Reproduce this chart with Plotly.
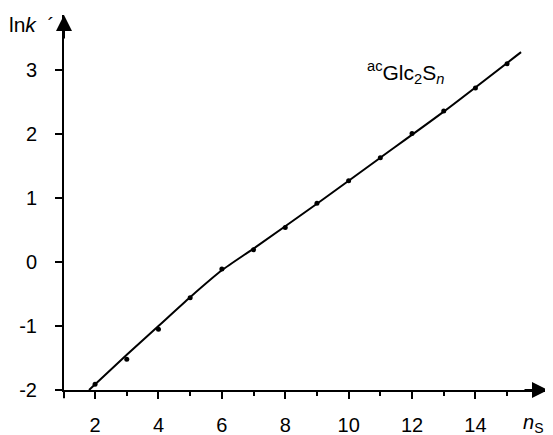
import plotly.graph_objects as go

# data
n_s = [2, 3, 4, 5, 6, 7, 8, 9, 10, 11, 12, 13, 14, 15]
ln_k = [-1.91, -1.52, -1.05, -0.56, -0.11, 0.19, 0.54, 0.92, 1.27, 1.63, 2.01, 2.36, 2.72, 3.10]

fit_x = [1.81, 3.0, 4.0, 5.0, 6.0, 7.0, 9.0, 11.0, 13.0, 15.44]
fit_y = [-2.0, -1.45, -1.0, -0.55, -0.13, 0.21, 0.91, 1.63, 2.35, 3.28]

x_ticks = [2, 4, 6, 8, 10, 12, 14]
x_minor = [3, 5, 7, 9, 11, 13, 15]
y_ticks = [-2, -1, 0, 1, 2, 3]

FONT = "Liberation Sans, Arial, Helvetica, sans-serif"

fig = go.Figure()
fig.add_trace(go.Scatter(x=fit_x, y=fit_y, mode="lines",
                         line=dict(color="black", width=2, shape="spline", smoothing=0.6),
                         hoverinfo="skip", cliponaxis=False))
fig.add_trace(go.Scatter(x=n_s, y=ln_k, mode="markers",
                         marker=dict(color="black", size=5), cliponaxis=False))

fig.update_layout(
    width=553, height=435,
    margin=dict(l=56, r=13, t=7, b=53, autoexpand=False),
    plot_bgcolor="white", paper_bgcolor="white",
    showlegend=False,
    font=dict(family=FONT, size=20, color="black"),
    xaxis=dict(range=[1.02, 16.29], tickvals=x_ticks, ticktext=[str(v) for v in x_ticks],
               automargin=False,
               showgrid=False, zeroline=False, showline=True, linecolor="black", linewidth=2,
               ticks="outside", ticklen=7, tickwidth=2, tickcolor="black",
               ticklabelstandoff=9,
               minor=dict(tickvals=x_minor, ticks="outside", ticklen=4, tickwidth=2, tickcolor="black")),
    yaxis=dict(range=[-2, 3.86], tickvals=y_ticks, ticktext=[str(v) for v in y_ticks],
               automargin=False,
               showgrid=False, zeroline=False, showline=True, linecolor="black", linewidth=2,
               ticks="outside", ticklen=7, tickwidth=2, tickcolor="black",
               ticklabelstandoff=14),
)

# axis extensions beyond the crossing
fig.add_shape(type="line", xref="paper", yref="paper", x0=-0.018, x1=0, y0=0, y1=0,
              line=dict(color="black", width=2))
fig.add_shape(type="line", xref="paper", yref="paper", x0=0, x1=0, y0=-0.022, y1=0,
              line=dict(color="black", width=2))

# arrowheads
fig.add_annotation(xref="paper", yref="paper", x=1.0, y=0, ax=-25, ay=0, text="",
                   showarrow=True, arrowhead=2, arrowsize=1.6, arrowwidth=2, arrowcolor="black")
fig.add_annotation(xref="paper", yref="paper", x=0, y=1.0, ax=0, ay=25, text="",
                   showarrow=True, arrowhead=2, arrowsize=1.6, arrowwidth=2, arrowcolor="black")

# axis labels
fig.add_annotation(xref="paper", yref="paper", x=(57 - 64) / 484, y=(390 - 24) / 375,
                   xanchor="right", yanchor="middle",
                   text="ln<i>k</i>&nbsp;&nbsp;´", showarrow=False, font=dict(size=21))
fig.add_annotation(xref="paper", yref="paper", x=(533 - 64) / 484, y=(390 - 423) / 375,
                   xanchor="center", yanchor="middle",
                   text="<i>n</i><sub>S</sub>", showarrow=False, font=dict(size=20))

# series label
fig.add_annotation(xref="paper", yref="paper", x=(365 - 64) / 484, y=(390 - 72) / 375,
                   xanchor="left", yanchor="middle",
                   text="<sup>ac</sup>Glc<sub>2</sub>S<sub><i>n</i></sub>", showarrow=False,
                   font=dict(size=21))

fig.write_html("out.html")
